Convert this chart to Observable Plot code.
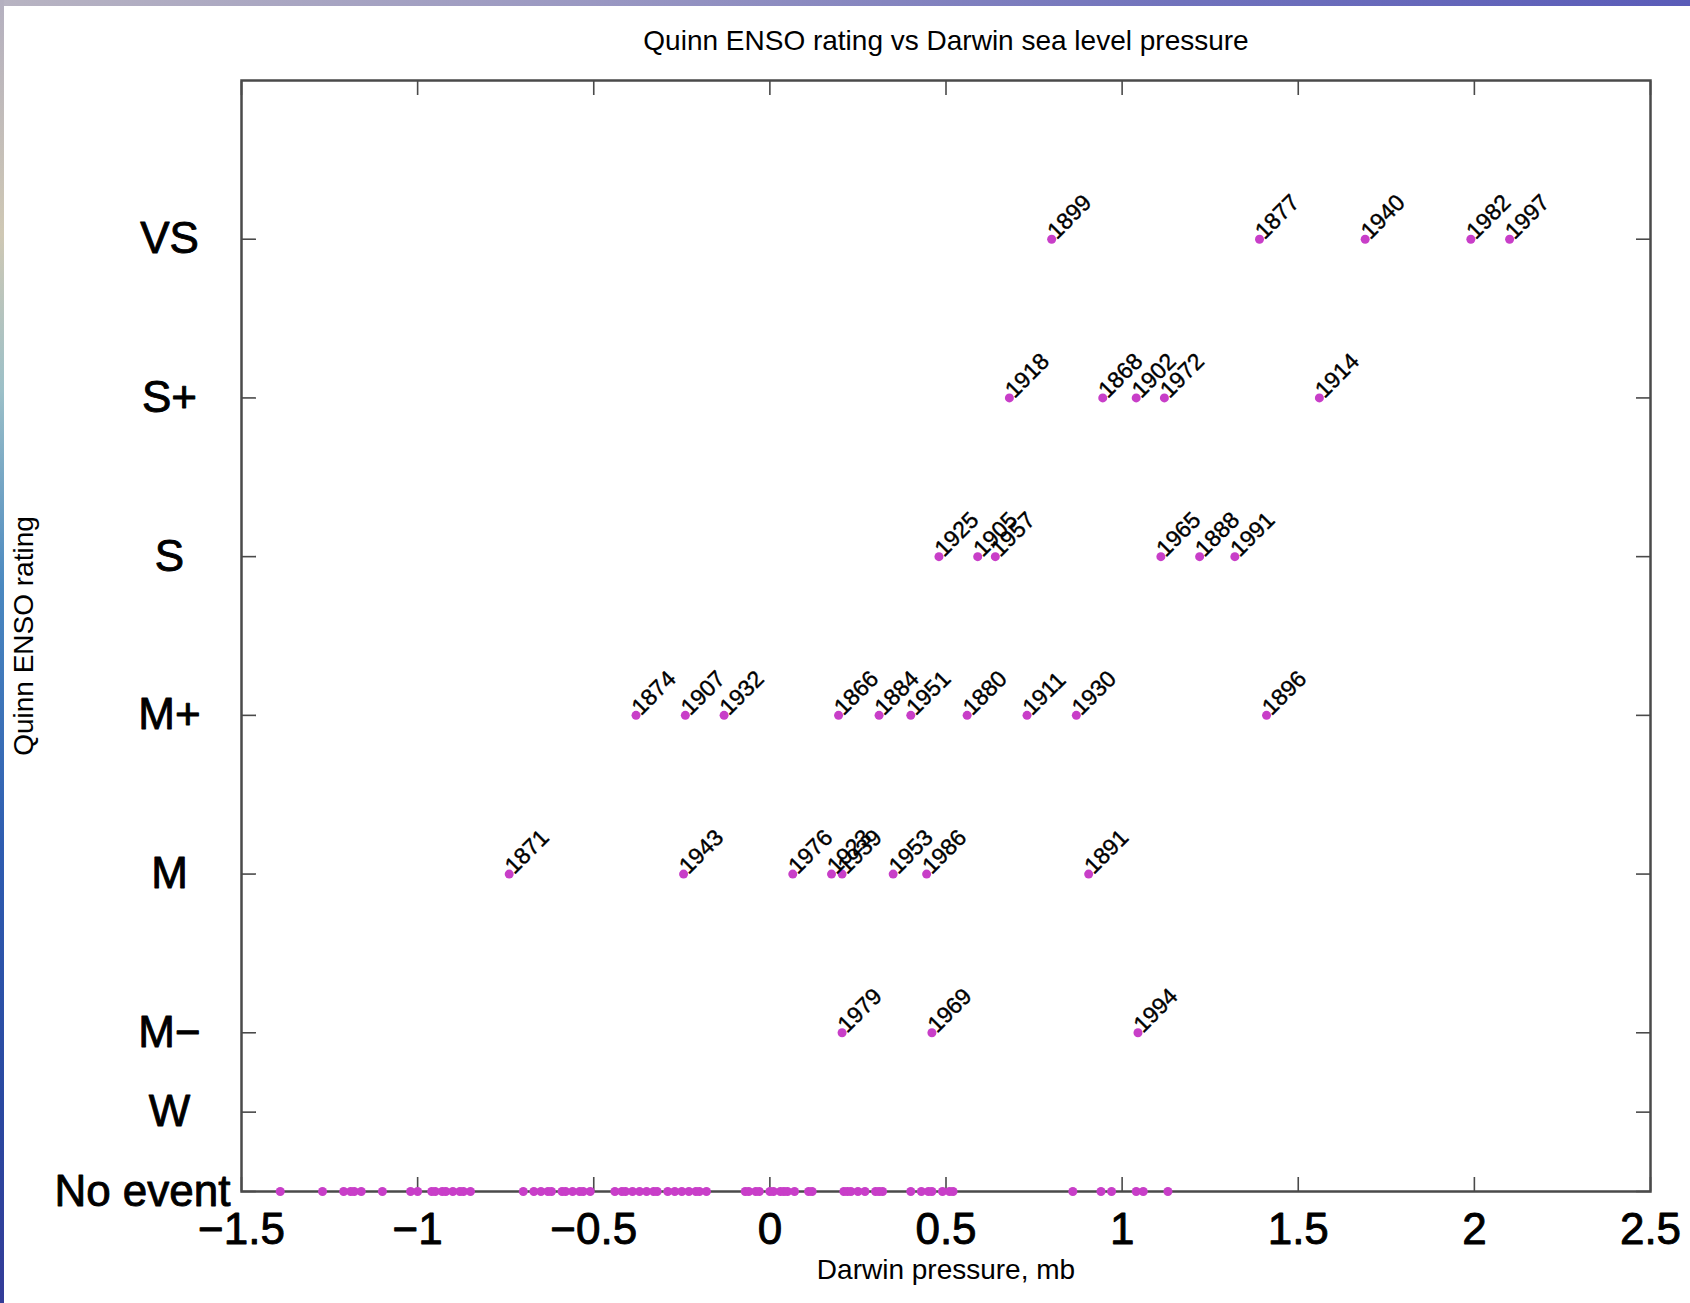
<!DOCTYPE html>
<html>
<head>
<meta charset="utf-8">
<script src="https://cdn.jsdelivr.net/npm/d3@7"></script>
<script src="https://cdn.jsdelivr.net/npm/@observablehq/plot@0.6"></script>
<style>
html, body { margin: 0; padding: 0; background: #fff; }
#wrap { position: relative; width: 1690px; height: 1303px; overflow: hidden; background: #fff; }
#topstrip { position: absolute; left: 0; top: 0; width: 1690px; height: 6px;
  background: linear-gradient(to right, #b8b4c2, #9a98c2 35%, #7072bc 70%, #5a5cb8); }
#leftstrip { position: absolute; left: 0; top: 0; width: 4px; height: 1303px;
  background: linear-gradient(to bottom, #b4b0c0, #cfc8b4 18%, #9cc0c8 30%, #4a88c0 45%, #2e5cb0 65%, #2a48a0 85%, #343c98); }
#chart { position: absolute; left: 0; top: 0; }
</style>
</head>
<body>
<div id="wrap">
  <div id="chart"></div>
  <div id="topstrip"></div>
  <div id="leftstrip"></div>
</div>
<script>
// ---- Text ----
const titleText = "Quinn ENSO rating vs Darwin sea level pressure";
const xLabelText = "Darwin pressure, mb";
const yLabelText = "Quinn ENSO rating";

// ---- Axis ticks ----
const xTicks = [-1.5, -1, -0.5, 0, 0.5, 1, 1.5, 2, 2.5];
const ratingNames = ["No event", "W", "M\u2212", "M", "M+", "S", "S+", "VS"];
const ratingLevels = [0, 0.5, 1, 2, 3, 4, 5, 6];

// ---- Events by rating (year, Darwin pressure anomaly in mb) ----
const vsYears = [1899, 1877, 1940, 1982, 1997];
const vsPressure = [0.80, 1.39, 1.69, 1.99, 2.10];

const sPlusYears = [1918, 1868, 1902, 1972, 1914];
const sPlusPressure = [0.68, 0.945, 1.04, 1.12, 1.56];

const sYears = [1925, 1905, 1957, 1965, 1888, 1991];
const sPressure = [0.48, 0.59, 0.64, 1.11, 1.22, 1.32];

const mPlusYears = [1874, 1907, 1932, 1866, 1884, 1951, 1880, 1911, 1930, 1896];
const mPlusPressure = [-0.38, -0.24, -0.13, 0.195, 0.31, 0.40, 0.56, 0.73, 0.87, 1.41];

const mYears = [1871, 1943, 1976, 1923, 1939, 1953, 1986, 1891];
const mPressure = [-0.74, -0.245, 0.065, 0.175, 0.205, 0.35, 0.445, 0.905];

const mMinusYears = [1979, 1969, 1994];
const mMinusPressure = [0.205, 0.46, 1.045];

// ---- Years with no event (pressure only) ----
const noEventPressure = [
  -1.39, -1.27, -1.21, -1.19, -1.18, -1.16, -1.10, -1.02, -1.00, -0.96,
  -0.95, -0.93, -0.92, -0.90, -0.88, -0.87, -0.85, -0.70, -0.67, -0.65,
  -0.63, -0.62, -0.59, -0.58, -0.56, -0.54, -0.53, -0.51, -0.44, -0.42,
  -0.41, -0.39, -0.37, -0.35, -0.33, -0.32, -0.29, -0.27, -0.25, -0.23,
  -0.21, -0.20, -0.18, -0.07, -0.06, -0.04, -0.03, 0.00, 0.01, 0.03,
  0.04, 0.05, 0.07, 0.11, 0.12, 0.21, 0.22, 0.23, 0.25, 0.27,
  0.30, 0.31, 0.32, 0.40, 0.43, 0.45, 0.46, 0.49, 0.51, 0.52,
  0.86, 0.94, 0.97, 1.04, 1.06, 1.13
];

// ---- Build tables ----
function group(name, years, pressures) {
  const level = ratingLevels[ratingNames.indexOf(name)];
  return years.map((year, i) => ({rating: name, level, year, pressure: pressures[i]}));
}
const events = [
  ...group("VS", vsYears, vsPressure),
  ...group("S+", sPlusYears, sPlusPressure),
  ...group("S", sYears, sPressure),
  ...group("M+", mPlusYears, mPlusPressure),
  ...group("M", mYears, mPressure),
  ...group("M\u2212", mMinusYears, mMinusPressure)
];
const noEvents = noEventPressure.map(p => ({rating: "No event", level: 0, pressure: p}));
const allPoints = [...noEvents, ...events];

const nameOf = v => ratingNames[ratingLevels.indexOf(v)];
const fmtX = d => (d < 0 ? "\u2212" + Math.abs(d) : String(d));

const axisColor = "#4a4a4a";
const font = "'Liberation Sans', Arial, Helvetica, sans-serif";
const bigText = {fontSize: 44, fill: "#000", textStroke: "#000", textStrokeWidth: 0.9, label: null};

const chart = Plot.plot({
  width: 1690,
  height: 1303,
  marginLeft: 241,
  marginRight: 40,
  marginTop: 80,
  marginBottom: 112,
  style: {fontFamily: font, background: "transparent", color: "#000", overflow: "visible"},
  x: {domain: [-1.5, 2.5], label: null},
  y: {domain: [0, 7], label: null},
  marks: [
    // inward tick marks on all four sides
    Plot.axisX({anchor: "bottom", ticks: xTicks, tickSize: -14, fill: "none", stroke: axisColor, strokeWidth: 1.6, label: null}),
    Plot.axisX({anchor: "top", ticks: xTicks, tickSize: -14, fill: "none", stroke: axisColor, strokeWidth: 1.6, label: null}),
    Plot.axisY({anchor: "left", ticks: ratingLevels, tickSize: -15, fill: "none", stroke: axisColor, strokeWidth: 1.6, label: null}),
    Plot.axisY({anchor: "right", ticks: ratingLevels, tickSize: -15, fill: "none", stroke: axisColor, strokeWidth: 1.6, label: null}),
    // tick labels
    Plot.axisX({anchor: "bottom", ticks: xTicks, tickSize: 0, tickPadding: 21, tickFormat: fmtX, ...bigText}),
    Plot.axisY({anchor: "left", ticks: ratingLevels.slice(1), tickSize: 0, tickPadding: 72, textAnchor: "middle", tickFormat: nameOf, ...bigText}),
    Plot.axisY({anchor: "left", ticks: ratingLevels.slice(0, 1), tickSize: 0, tickPadding: 11, tickFormat: nameOf, ...bigText}),
    Plot.frame({stroke: axisColor, strokeWidth: 2.5}),
    // data
    Plot.dot(allPoints, {x: "pressure", y: "level", r: 4.5, fill: "#c83ec8", stroke: "none"}),
    Plot.text(events, {x: "pressure", y: "level", text: d => String(d.year), rotate: -45, textAnchor: "start", lineAnchor: "bottom", fontSize: 23, fill: "#000", stroke: "#000", strokeWidth: 0.4, dx: 5, dy: 1}),
    // titles
    Plot.text([titleText], {frameAnchor: "top", dy: -39, fontSize: 28, lineAnchor: "middle", textAnchor: "middle", fill: "#000"}),
    Plot.text([xLabelText], {frameAnchor: "bottom", dy: 79, fontSize: 28, lineAnchor: "middle", textAnchor: "middle", fill: "#000"}),
    Plot.text([yLabelText], {frameAnchor: "left", dx: -217, rotate: -90, fontSize: 28, lineAnchor: "middle", textAnchor: "middle", fill: "#000"})
  ]
});
document.getElementById("chart").appendChild(chart);
</script>
</body>
</html>
